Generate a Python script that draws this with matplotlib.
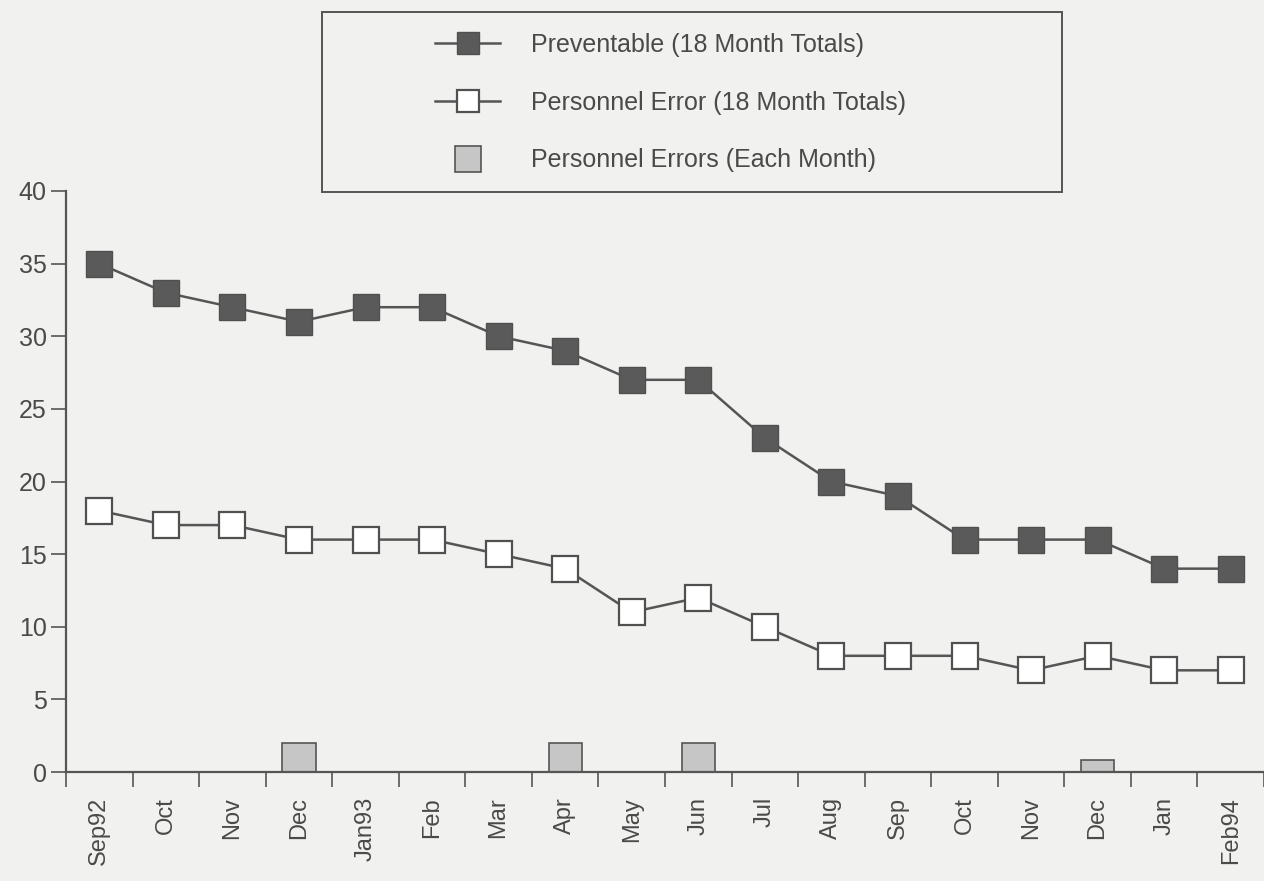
import numpy as np
import matplotlib.pyplot as plt
from matplotlib.lines import Line2D
from matplotlib.patches import Rectangle

# ------------------------------------------------------------------ #
# Data
# ------------------------------------------------------------------ #
months = ['Sep92', 'Oct', 'Nov', 'Dec', 'Jan93', 'Feb', 'Mar', 'Apr', 'May',
          'Jun', 'Jul', 'Aug', 'Sep', 'Oct', 'Nov', 'Dec', 'Jan', 'Feb94']
preventable = [35, 33, 32, 31, 32, 32, 30, 29, 27, 27, 23, 20, 19, 16, 16, 16, 14, 14]
personnel_18 = [18, 17, 17, 16, 16, 16, 15, 14, 11, 12, 10, 8, 8, 8, 7, 8, 7, 7]
personnel_month = [0, 0, 0, 2, 0, 0, 0, 2, 0, 2, 0, 0, 0, 0, 0, 0.8, 0, 0]

BG = '#f1f1f0'
INK = '#555555'
TXT = '#4a4a4a'
W, H = 1264, 881

plt.rcParams['font.family'] = ['Liberation Sans', 'DejaVu Sans']

fig = plt.figure(figsize=(W / 100, H / 100), dpi=100, facecolor=BG)
ax = fig.add_axes([66 / W, 1 - 772 / H, 1 - 66 / W, (772 - 191) / H], facecolor=BG)

x = np.arange(len(months))
ax.bar(x, personnel_month, width=0.5, color='#c6c6c6',
       edgecolor=INK, linewidth=1.2, zorder=2)
ax.plot(x, preventable, '-s', color=INK, lw=1.8, ms=19,
        mfc='#5a5a5a', mec='#505050', zorder=3)
ax.plot(x, personnel_18, '-s', color=INK, lw=1.8, ms=19,
        mfc='white', mec='#505050', mew=1.6, zorder=3)

ax.set_xlim(-0.5, len(months) - 0.5)
ax.set_ylim(0, 40)
ax.set_yticks(range(0, 41, 5))
ax.set_xticks(np.arange(-0.5, len(months)))
ax.set_xticklabels([])
ax.set_xticks(x, minor=True)
ax.set_xticklabels(months, minor=True, rotation=90)
ax.tick_params(axis='x', which='major', length=11, width=1.2, color=INK)
ax.tick_params(axis='x', which='minor', length=0, pad=18,
               labelsize=17, labelcolor=TXT)
ax.tick_params(axis='y', length=11, width=1.2, color=INK,
               labelsize=18, labelcolor=TXT, pad=3)

for s in ['top', 'right']:
    ax.spines[s].set_visible(False)
for s in ['left', 'bottom']:
    ax.spines[s].set_color(INK)
    ax.spines[s].set_linewidth(1.6)
ax.spines['bottom'].set_zorder(4)

# legend: frame drawn separately so it can be sized like the original
fig.patches.append(Rectangle((322 / W, 1 - 192 / H), 740 / W, 180 / H,
                             transform=fig.transFigure, fill=False,
                             edgecolor=INK, linewidth=1.4))
handles = [
    Line2D([], [], color=INK, lw=1.8, marker='s', ms=16,
           mfc='#5a5a5a', mec='#505050'),
    Line2D([], [], color=INK, lw=1.8, marker='s', ms=16,
           mfc='white', mec='#505050', mew=1.6),
    Line2D([], [], ls='none', marker='s', ms=19,
           mfc='#c6c6c6', mec=INK, mew=1.2),
]
labels = ['Preventable (18 Month Totals)',
          'Personnel Error (18 Month Totals)',
          'Personnel Errors (Each Month)']
fig.legend(handles, labels, loc='upper left',
           bbox_to_anchor=(435 / W, 1 - 33 / H), bbox_transform=fig.transFigure,
           frameon=False, fontsize=18, labelcolor=TXT,
           handlelength=2.6, handletextpad=1.25, labelspacing=1.35,
           borderpad=0, borderaxespad=0)

fig.savefig('out.png', dpi=100, facecolor=BG)
